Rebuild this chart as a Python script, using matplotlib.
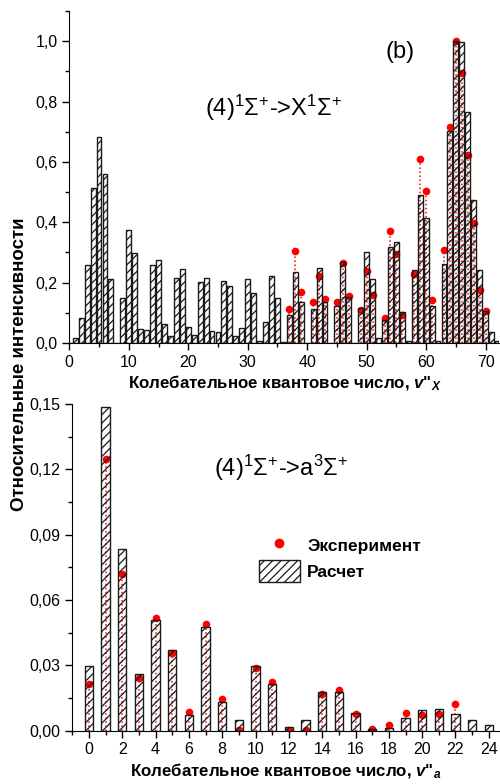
import numpy as np
import matplotlib
matplotlib.use("Agg")
import matplotlib.pyplot as plt
from matplotlib.ticker import MultipleLocator, FuncFormatter
from matplotlib.patches import Patch
from matplotlib.lines import Line2D

plt.rcParams['font.family'] = ['Liberation Sans', 'DejaVu Sans']
plt.rcParams['mathtext.fontset'] = 'custom'
plt.rcParams['mathtext.rm'] = 'Liberation Sans'
plt.rcParams['mathtext.it'] = 'Liberation Sans:italic:bold'
plt.rcParams['mathtext.bf'] = 'Liberation Sans:bold'
plt.rcParams['hatch.linewidth'] = 0.9

### Data ###

# (4)1S+ -> X1S+ : calculated intensities, v'' = 0..72
v_x = np.arange(73)
calc_x = [0.0, 0.015, 0.084, 0.259, 0.515, 0.682, 0.559, 0.211, 0.0, 0.148,
          0.375, 0.297, 0.045, 0.043, 0.259, 0.275, 0.063, 0.023, 0.215, 0.244,
          0.054, 0.025, 0.202, 0.217, 0.039, 0.036, 0.205, 0.190, 0.022, 0.051,
          0.213, 0.167, 0.008, 0.071, 0.223, 0.148, 0.002, 0.093, 0.234, 0.135,
          0.0, 0.112, 0.248, 0.135, 0.0, 0.123, 0.268, 0.154, 0.0, 0.117,
          0.301, 0.213, 0.015, 0.076, 0.317, 0.336, 0.102, 0.008, 0.242, 0.489,
          0.413, 0.123, 0.005, 0.263, 0.701, 1.0, 0.996, 0.766, 0.473, 0.242,
          0.105, 0.035, 0.008]

# measured intensities
v_x_exp = [37, 38, 39, 41, 42, 43, 45, 46, 47, 49, 50, 51, 53, 54, 55, 56,
           58, 59, 60, 61, 63, 64, 65, 66, 67, 68, 69, 70]
exp_x = [0.113, 0.306, 0.168, 0.135, 0.221, 0.146, 0.135, 0.265, 0.157, 0.108,
         0.239, 0.159, 0.082, 0.371, 0.296, 0.094, 0.227, 0.609, 0.505, 0.142,
         0.309, 0.715, 1.0, 0.894, 0.624, 0.397, 0.175, 0.107]

# (4)1S+ -> a3S+ : v'' = 0..24
v_a = np.arange(25)
calc_a = [0.0297, 0.1488, 0.0836, 0.0259, 0.0508, 0.0369, 0.0072, 0.0475, 0.0132, 0.0048,
          0.0299, 0.0213, 0.0017, 0.0049, 0.0176, 0.0179, 0.0083, 0.0008, 0.0011, 0.0057,
          0.0094, 0.0098, 0.0077, 0.0048, 0.0025]
v_a_exp = np.arange(23)
exp_a = [0.0216, 0.1249, 0.0721, 0.0243, 0.0518, 0.0357, 0.0087, 0.049, 0.0146, 0.0005,
         0.0287, 0.0224, 0.0005, 0.0003, 0.0167, 0.0187, 0.0075, 0.0007, 0.0026, 0.008,
         0.0072, 0.0077, 0.0121]

### Plotting ###

HATCH = '////'

def comma(fmt):
    return FuncFormatter(lambda val, pos: (fmt % val).replace('.', ','))

def style(ax):
    for s in ['top', 'right']:
        ax.spines[s].set_visible(False)
    ax.tick_params(which='major', direction='out', length=5, width=1, labelsize=11.5)
    ax.tick_params(which='minor', direction='out', length=3, width=1)

def draw(ax, v, calc, ve, expv, width):
    ax.vlines(ve, 0, expv, colors='red', linestyles=':', linewidth=1.1, zorder=1)
    ax.plot(ve, expv, 'o', color='red', markersize=5.5, markeredgewidth=0, zorder=1)
    ax.bar(v, calc, width=width, facecolor='none', edgecolor='#1a1a1a',
           hatch=HATCH, linewidth=1.0, zorder=2)

fig = plt.figure(figsize=(5.0, 7.84), dpi=100)

ax1 = fig.add_axes([0.1386, 0.5625, 0.86, 0.4235])
draw(ax1, v_x, calc_x, v_x_exp, exp_x, 0.82)
ax1.set_xlim(0, 72.3)
ax1.set_ylim(0, 1.1)
ax1.xaxis.set_major_locator(MultipleLocator(10))
ax1.xaxis.set_minor_locator(MultipleLocator(5))
ax1.yaxis.set_major_locator(MultipleLocator(0.2))
ax1.yaxis.set_minor_locator(MultipleLocator(0.1))
ax1.yaxis.set_major_formatter(comma('%.1f'))
style(ax1)
ax1.set_xlabel(r'Колебательное квантовое число, $v$"$_X$', fontsize=12.2,
               fontweight='bold', labelpad=3)
ax1.text(0.476, 0.708, r"(4)$^1\Sigma^{+}$->X$^1\Sigma^{+}$", transform=ax1.transAxes,
         fontsize=17, ha='center', va='center')

ax2 = fig.add_axes([0.1446, 0.068, 0.853, 0.4167])
draw(ax2, v_a, calc_a, v_a_exp, exp_a, 0.5)
ax2.set_xlim(-1, 24.6)
ax2.set_ylim(0, 0.15)
ax2.xaxis.set_major_locator(MultipleLocator(2))
ax2.xaxis.set_minor_locator(MultipleLocator(1))
ax2.yaxis.set_major_locator(MultipleLocator(0.03))
ax2.yaxis.set_minor_locator(MultipleLocator(0.015))
ax2.yaxis.set_major_formatter(comma('%.2f'))
style(ax2)
ax2.set_xlabel(r'Колебательное квантовое число, $v$"$_a$', fontsize=12.2,
               fontweight='bold', labelpad=3)
ax2.text(0.49, 0.804, r"(4)$^1\Sigma^{+}$->a$^3\Sigma^{+}$", transform=ax2.transAxes,
         fontsize=17, ha='center', va='center')

handles = [Line2D([], [], marker='o', color='red', linestyle='none', markersize=6),
           Patch(facecolor='white', edgecolor='#1a1a1a', hatch=HATCH)]
ax2.legend(handles, ['Эксперимент', 'Расчет'], loc='upper left',
           bbox_to_anchor=(0.40, 0.647), frameon=False, handlelength=2.4,
           handleheight=1.5, handletextpad=0.4, labelspacing=0.25,
           prop={'weight': 'bold', 'size': 12.5})

fig.text(400 / 500, 1 - 52 / 784, '(b)', fontsize=17, ha='center', va='center')
fig.text(0.04, 0.535, 'Относительные интенсивности', rotation=90, fontsize=13.5,
         fontweight='bold', ha='center', va='center')

fig.savefig('out.png', dpi=100)
